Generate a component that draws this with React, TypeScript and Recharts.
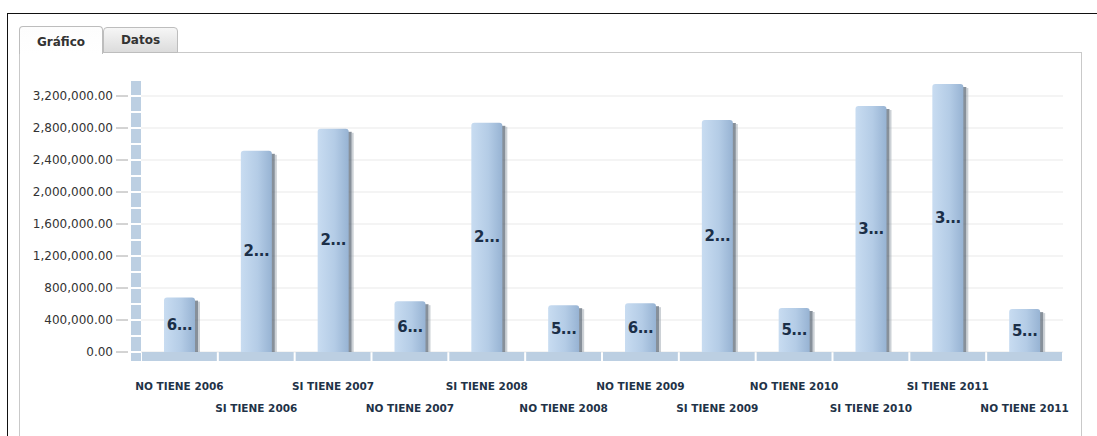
import React from "react";
import {
  BarChart,
  Bar,
  XAxis,
  YAxis,
  CartesianGrid,
  LabelList,
} from "recharts";

const categories = [
  "NO TIENE 2006",
  "SI TIENE 2006",
  "SI TIENE 2007",
  "NO TIENE 2007",
  "SI TIENE 2008",
  "NO TIENE 2008",
  "NO TIENE 2009",
  "SI TIENE 2009",
  "NO TIENE 2010",
  "SI TIENE 2010",
  "SI TIENE 2011",
  "NO TIENE 2011",
];

const amounts = [
  680000, 2515000, 2790000, 635000, 2865000, 585000, 610000, 2900000, 550000,
  3075000, 3350000, 536000,
];

const yTicks = [
  0, 400000, 800000, 1200000, 1600000, 2000000, 2400000, 2800000, 3200000,
];

const data = categories.map((name, i) => ({ name, value: amounts[i] }));

const W = 1097;
const H = 436;
const M = { top: 80, right: 34, bottom: 14, left: 0 };
const Y_W = 141;
const PLOT_W = W - M.right - Y_W;
const PLOT_H = 272;
const Y_MAX = 3400000;
const HALF = (PLOT_H * (yTicks[1] / Y_MAX)) / 2;
const BAND = PLOT_W / categories.length;

const STRIP = "#bccfe2";
const FONT = "'DejaVu Sans', Verdana, sans-serif";

const fmt = (v: number) =>
  v.toLocaleString("en-US", {
    minimumFractionDigits: 2,
    maximumFractionDigits: 2,
  });

const YTick = (props: any) => {
  const { x, y, payload, index } = props;
  const last = index === yTicks.length - 1;
  const first = payload.value === 0;
  return (
    <g>
      <text
        x={x - 28}
        y={y}
        textAnchor="end"
        dominantBaseline="central"
        fontSize={12}
        fontFamily={FONT}
        fill="#333"
      >
        {fmt(payload.value)}
      </text>
      <line x1={x - 25} x2={x - 13} y1={y} y2={y} stroke="#a8a8a8" />
      {first ? (
        <rect x={x - 10} y={y + 1} width={10} height={8} fill={STRIP} />
      ) : null}
      {!first ? (
        <>
          <rect x={x - 10} y={y + 1} width={10} height={HALF - 2} fill={STRIP} />
          <rect
            x={x - 10}
            y={y + HALF + 1}
            width={10}
            height={HALF - 2}
            fill={STRIP}
          />
        </>
      ) : null}
      {last ? (
        <rect x={x - 10} y={y - 15} width={10} height={14} fill={STRIP} />
      ) : null}
    </g>
  );
};

const XTick = (props: any) => {
  const { x, y, payload, index } = props;
  const row = index % 2 === 0 ? 0 : 1;
  return (
    <g>
      <rect
        x={x - BAND / 2 + 1}
        y={y}
        width={BAND - 2}
        height={9}
        fill={STRIP}
      />
      <text
        x={x}
        y={y + 34 + row * 22}
        textAnchor="middle"
        dominantBaseline="central"
        fontSize={10.5}
        fontWeight="bold"
        fontFamily={FONT}
        fill="#1f3348"
      >
        {payload.value}
      </text>
    </g>
  );
};

const BarShape = (props: any) => {
  const { x, y, width, height } = props;
  if (!height || height <= 0) return null;
  const r = 3;
  const path = `M${x},${y + height} L${x},${y + r} Q${x},${y} ${x + r},${y} L${
    x + width - r
  },${y} Q${x + width},${y} ${x + width},${y + r} L${x + width},${
    y + height
  } Z`;
  return (
    <g>
      <rect
        x={x + width - 1}
        y={y + 3}
        width={4}
        height={height - 3}
        fill="#5f6b78"
        opacity={0.75}
      />
      <rect
        x={x + width + 3}
        y={y + 4}
        width={2}
        height={height - 4}
        fill="#9aa3ad"
        opacity={0.5}
      />
      <path d={path} fill="url(#barGrad)" />
    </g>
  );
};

const BarLabel = (props: any) => {
  const { x, y, width, height, value } = props;
  const text = fmt(value).slice(0, 1) + "...";
  return (
    <text
      x={x + width / 2}
      y={y + height / 2}
      textAnchor="middle"
      dominantBaseline="central"
      fontSize={15}
      fontWeight="bold"
      fontFamily={FONT}
      fill="#1b2f48"
      letterSpacing={-0.5}
    >
      {text}
    </text>
  );
};

export default function App() {
  return (
    <div
      style={{
        position: "absolute",
        left: 0,
        top: 0,
        width: W,
        height: H,
        background: "#fff",
        overflow: "hidden",
        fontFamily: FONT,
      }}
    >
      <div
        style={{
          position: "absolute",
          left: 7,
          top: 13,
          width: W,
          height: H,
          borderLeft: "1px solid #111",
          borderTop: "1px solid #111",
        }}
      />
      <div
        style={{
          position: "absolute",
          left: 19,
          top: 52,
          width: 1063,
          height: 400,
          border: "1px solid #c9c9c9",
          boxSizing: "border-box",
        }}
      />
      <div
        style={{
          position: "absolute",
          left: 103,
          top: 27,
          width: 75,
          height: 26,
          boxSizing: "border-box",
          border: "1px solid #bdbdbd",
          borderRadius: "4px 4px 0 0",
          background: "linear-gradient(#f6f6f6, #dcdcdc)",
          fontSize: 12,
          fontWeight: "bold",
          color: "#333",
          textAlign: "center",
          lineHeight: "24px",
          paddingBottom: 4,
        }}
      >
        Datos
      </div>
      <div
        style={{
          position: "absolute",
          left: 19,
          top: 26,
          width: 84,
          height: 28,
          boxSizing: "border-box",
          border: "1px solid #bdbdbd",
          borderBottom: "none",
          borderRadius: "4px 4px 0 0",
          background: "linear-gradient(#fdfdfd, #ffffff)",
          fontSize: 12,
          fontWeight: "bold",
          color: "#333",
          textAlign: "center",
          lineHeight: "30px",
        }}
      >
        Gráfico
      </div>
      <div style={{ position: "absolute", left: 0, top: 0 }}>
        <BarChart width={W} height={H} data={data} margin={M}>
          <defs>
            <linearGradient id="barGrad" x1="0" y1="0" x2="1" y2="0">
              <stop offset="0%" stopColor="#c8dcf1" />
              <stop offset="55%" stopColor="#b4cce6" />
              <stop offset="100%" stopColor="#97b3d3" />
            </linearGradient>
          </defs>
          <CartesianGrid vertical={false} stroke="#e9e9e9" syncWithTicks />
          <XAxis
            dataKey="name"
            interval={0}
            axisLine={false}
            tickLine={false}
            tickSize={0}
            tickMargin={0}
            height={70}
            tick={<XTick />}
          />
          <YAxis
            domain={[0, Y_MAX]}
            ticks={yTicks}
            interval={0}
            width={Y_W}
            axisLine={false}
            tickLine={false}
            tickSize={0}
            tickMargin={0}
            tick={<YTick />}
          />
          <Bar
            dataKey="value"
            barSize={31}
            shape={<BarShape />}
            isAnimationActive={false}
          >
            <LabelList dataKey="value" content={<BarLabel />} />
          </Bar>
        </BarChart>
      </div>
    </div>
  );
}
